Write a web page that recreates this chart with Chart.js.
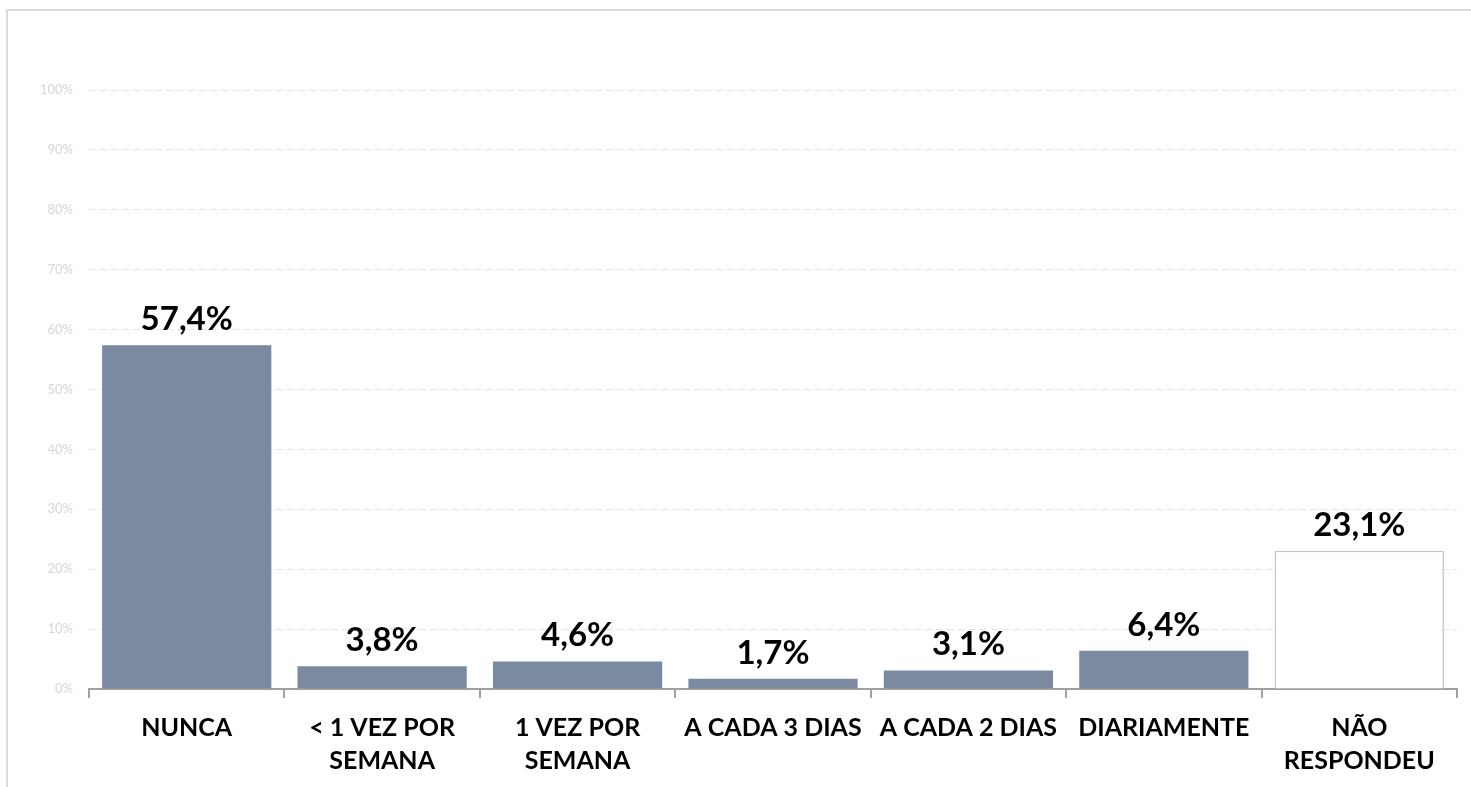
<!DOCTYPE html>
<html>
<head>
<meta charset="utf-8">
<script src="https://cdn.jsdelivr.net/npm/chart.js@4/dist/chart.umd.min.js"></script>
<style>
  html, body { margin: 0; padding: 0; background: #fff; overflow: hidden; }
  #frame {
    position: absolute;
    left: 6px;
    top: 9px;
    width: 1500px;
    height: 820px;
    border-top: 2px solid #dcdcdc;
    border-left: 2px solid #dcdcdc;
  }
  #wrap { position: absolute; left: 0; top: 0; width: 1471px; height: 787px; }
</style>
</head>
<body>
<div id="frame"></div>
<div id="wrap"><canvas id="chart"></canvas></div>
<script>
const categories = [
  "NUNCA",
  ["< 1 VEZ POR", "SEMANA"],
  ["1 VEZ POR", "SEMANA"],
  "A CADA 3 DIAS",
  "A CADA 2 DIAS",
  "DIARIAMENTE",
  ["NÃO", "RESPONDEU"],
];
const percentages = [57.4, 3.8, 4.6, 1.7, 3.1, 6.4, 23.1];
const yTicks = [0, 10, 20, 30, 40, 50, 60, 70, 80, 90, 100];

const barFill = "#7a8aa0";
const fontFamily = "Lato, 'Open Sans', sans-serif";

// Last category ("não respondeu") is drawn as an empty outlined bar
const last = percentages.length - 1;
const fills = percentages.map((v, i) => (i === last ? "#ffffff" : barFill));
const borders = percentages.map((v, i) => (i === last ? "#c4c4c4" : barFill));
const borderWidths = percentages.map((v, i) => (i === last ? 1.5 : 0));

const fmt = (v) => v.toFixed(1).replace(".", ",") + "%";

// Bold percentage above each bar
const valueLabels = {
  id: "valueLabels",
  afterDatasetsDraw(chart) {
    const { ctx } = chart;
    const meta = chart.getDatasetMeta(0);
    ctx.save();
    ctx.font = `bold 33px ${fontFamily}`;
    ctx.fillStyle = "#000";
    ctx.textAlign = "center";
    ctx.textBaseline = "alphabetic";
    meta.data.forEach((bar, i) => {
      ctx.fillText(fmt(percentages[i]), bar.x, bar.y - 15);
    });
    ctx.restore();
  },
};

new Chart(document.getElementById("chart"), {
  type: "bar",
  data: {
    labels: categories,
    datasets: [
      {
        data: percentages,
        backgroundColor: fills,
        borderColor: borders,
        borderWidth: borderWidths,
        barPercentage: 0.866,
        categoryPercentage: 1,
      },
    ],
  },
  options: {
    responsive: true,
    maintainAspectRatio: false,
    animation: false,
    events: [],
    layout: { padding: { top: 90, right: 14, left: 0, bottom: 0 } },
    plugins: {
      legend: { display: false },
      tooltip: { enabled: false },
    },
    scales: {
      y: {
        min: 0,
        max: 100,
        afterBuildTicks(scale) {
          scale.ticks = yTicks.map((value) => ({ value }));
        },
        afterFit(scale) {
          scale.width = 89;
        },
        ticks: {
          color: "#d6d6d6",
          padding: 16,
          font: { family: fontFamily, size: 13 },
          callback: (v) => v + "%",
        },
        grid: {
          color: (c) => (c.tick && c.tick.value === 0 ? "rgba(0,0,0,0)" : "#e6e6e6"),
          lineWidth: 1,
          drawTicks: false,
        },
        border: { display: false, dash: [7, 4] },
      },
      x: {
        afterFit(scale) {
          scale.height = 98;
        },
        ticks: {
          color: "#000",
          padding: 13,
          maxRotation: 0,
          autoSkip: false,
          font: { family: fontFamily, size: 25, weight: "bold", lineHeight: 1.32 },
        },
        grid: {
          display: true,
          drawOnChartArea: false,
          drawTicks: true,
          tickLength: 9,
          color: "#a0a0a0",
          lineWidth: 2,
        },
        border: { display: true, color: "#a0a0a0", width: 2 },
      },
    },
  },
  plugins: [valueLabels],
});
</script>
</body>
</html>
